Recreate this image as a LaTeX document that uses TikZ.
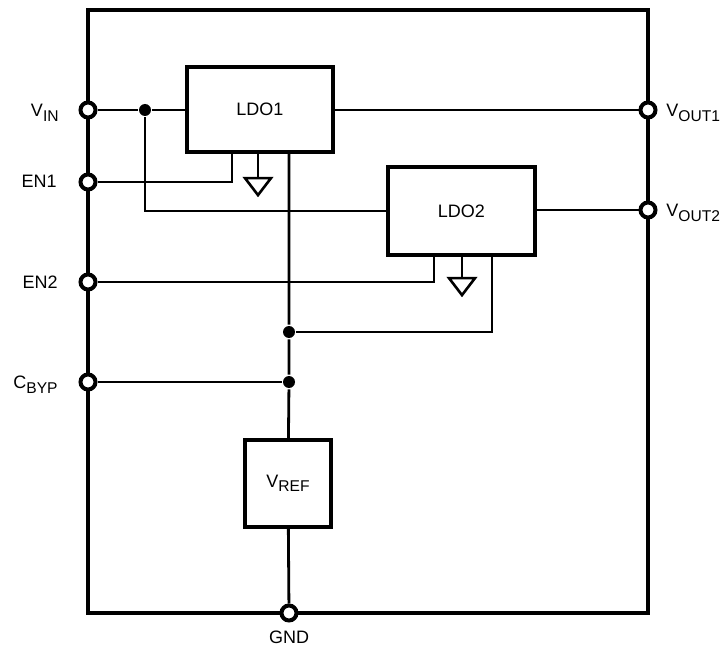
\documentclass[tikz,border=0pt]{standalone}
\usepackage{fontspec}
\setmainfont{Liberation Sans}
\newcommand{\pinsub}[1]{\raisebox{-2.3pt}{\fontsize{7.8}{9}\selectfont #1}}

\tikzset{
  blok/.style={draw, rectangle, line width=2.1pt, inner sep=0pt, font=\fontsize{9}{11}\selectfont},
  pinc/.style={draw, circle, line width=2pt, fill=white, inner sep=0pt, minimum size=7.5pt},
  knot/.style={circle, fill, inner sep=0pt, minimum size=6pt},
  lbl/.style={inner sep=0pt, font=\fontsize{9}{11}\selectfont},
  gnd/.pic={\draw[line width=1.3pt, line join=miter] (-13,0) -- (13,0) -- (0,17) -- cycle;}
}

\begin{document}
\begin{tikzpicture}[x=0.5pt, y=-0.5pt, line width=1.4pt]
\useasboundingbox (0,0) rectangle (724,647);

% корпус
\draw[line width=2.1pt] (88,10) rectangle (648,613);

% блоки
\node[blok, minimum width=73pt, minimum height=42.5pt] (ldoA) at (260,109.5) {LDO1};
\node[blok, minimum width=73.5pt, minimum height=44pt] (ldoB) at (461.5,211) {LDO2};
\node[blok, minimum width=43pt, minimum height=43.5pt] (vref) at (288,483.5) {V\pinsub{REF}};

% выводы
\node[pinc] (vin) at (88,110) {};
\node[pinc] (en1) at (88,182) {};
\node[pinc] (en2) at (88,282) {};
\node[pinc] (cbyp) at (88,382) {};
\node[pinc] (vout1) at (648,110) {};
\node[pinc] (vout2) at (648,210) {};
\node[pinc] (gnd) at (289,613) {};

\node[lbl, anchor=base east] (tvin) at (60,116.5) {V\pinsub{IN}};
\node[lbl, anchor=base east] (ten1) at (58,188) {EN1};
\node[lbl, anchor=base east] (ten2) at (59,288.5) {EN2};
\node[lbl, anchor=base east] (tcbyp) at (59,388.5) {C\pinsub{BYP}};
\node[lbl, anchor=base west] (tvout1) at (665,116.5) {V\pinsub{OUT1}};
\node[lbl, anchor=base west] (tvout2) at (665,216.5) {V\pinsub{OUT2}};
\node[lbl, anchor=base] (tgnd) at (289,643.5) {GND};

% узлы
\node[knot] (jin) at (145,110) {};
\node[knot] (jreg) at (289,332) {};
\node[knot] (jbyp) at (289,382) {};

% связи
\draw (vin) -- (jin) -- (vin -| ldoA.west);
\draw (jin) |- (ldoB.west);
\draw (en1) -| (ldoA.south -| 232,0);
\draw (ldoA.south -| 258,0) -- ++(0,24) pic {gnd};
\draw (ldoA.south -| jreg) -- (jreg) -- (jbyp) -- (vref);
\draw (vout1 -| ldoA.east) -- (vout1);
\draw (vout2 -| ldoB.east) -- (vout2);
\draw (en2) -| (ldoB.south -| 434,0);
\draw (ldoB.south -| 462,0) -- ++(0,21) pic {gnd};
\draw (ldoB.south -| 492,0) |- (jreg);
\draw (cbyp) -- (jbyp);
\draw (vref) -- (gnd);
\end{tikzpicture}
\end{document}
